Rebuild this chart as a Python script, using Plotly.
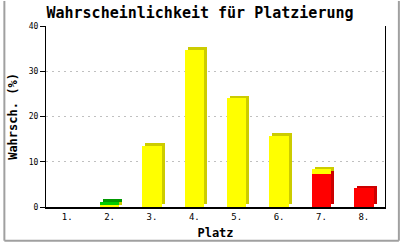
import plotly.graph_objects as go
import numpy as np

# ---- data ----
places = ["1.", "2.", "3.", "4.", "5.", "6.", "7.", "8."]
red_vals = [0, 0, 0, 0, 0, 0, 7.4, 4.1]
yellow_vals = [0, 0.4, 13.4, 34.7, 24.0, 15.7, 0.9, 0]
green_vals = [0, 0.65, 0, 0, 0, 0, 0, 0]
y_ticks = [0, 10, 20, 30, 40]

title_text = "Wahrscheinlichkeit für Platzierung"
x_title = "Platz"
y_title = "Wahrsch. (%)"

# ---- layout constants ----
W, H = 400, 250
ML, MR, MT, MB = 43, 15, 26, 36
PW, PH = W - ML - MR, H - MT - MB
YMAX = 40
n = len(places)
xpos = np.arange(1, n + 1)
bar_w = 0.46
dx = 3 / (PW / n)          # 3px depth in x data units
dy = 3 / (PH / YMAX)       # 3px depth in y data units

series = [
    ("red", red_vals, "#FF0000", "#CC0000"),
    ("yellow", yellow_vals, "#FFFF00", "#CCCC00"),
    ("green", green_vals, "#00CC00", "#009900"),
]

fig = go.Figure()
base = np.zeros(n)
fronts = []
for name, vals, front_c, side_c in series:
    v = np.array(vals, dtype=float)
    mask = v > 0
    if mask.any():
        # side / top shading (shifted back)
        fig.add_trace(go.Bar(
            x=xpos[mask], y=v[mask], base=base[mask] + dy,
            width=bar_w, offset=-bar_w / 2 + dx,
            marker=dict(color=side_c, line=dict(width=0)),
            hoverinfo="skip", showlegend=False))
        fronts.append(dict(x=xpos[mask], y=v[mask], base=base[mask].copy(), c=front_c, name=name))
    base = base + v

for f in fronts:
    fig.add_trace(go.Bar(
        x=f["x"], y=f["y"], base=f["base"],
        width=bar_w, offset=-bar_w / 2,
        marker=dict(color=f["c"], line=dict(width=0)),
        name=f["name"], showlegend=False))

mono = "DejaVu Sans Mono"
fig.update_layout(
    width=W, height=H,
    margin=dict(l=ML, r=MR, t=MT, b=MB),
    paper_bgcolor="white", plot_bgcolor="white",
    barmode="overlay", bargap=0,
    showlegend=False,
    title=dict(text="<b>" + title_text + "</b>", x=0.5, xanchor="center",
               y=1 - 13 / H, yanchor="middle",
               font=dict(family=mono, size=15, color="black")),
    xaxis=dict(
        range=[0.5, n + 0.5], tickvals=list(xpos), ticktext=places,
        showline=True, linecolor="black", linewidth=2, ticks="",
        showgrid=False, zeroline=False,
        tickfont=dict(family=mono, size=9, color="black"),
        title=dict(text="<b>" + x_title + "</b>", standoff=8,
                   font=dict(family=mono, size=12, color="black")),
    ),
    yaxis=dict(
        range=[0, YMAX], tickvals=y_ticks,
        showline=True, linecolor="black", linewidth=1, mirror=True,
        ticks="outside", ticklen=5, tickcolor="black", tickwidth=1,
        showgrid=True, gridcolor="#C0C0C0", griddash="2px,4px", gridwidth=1,
        zeroline=False,
        tickfont=dict(family=mono, size=8, color="black"),
        title=dict(text="<b>" + y_title + "</b>", standoff=8,
                   font=dict(family=mono, size=12, color="black")),
    ),
)

# outer gray frame (left, right, bottom)
fx0, fx1 = -(ML - 1) / PW, (W - ML - 1) / PW
fy0, fy1 = -(MB - 1) / PH, (H - MB) / PH
for x0, y0, x1, y1 in [(fx0, fy0, fx0, fy1), (fx1, fy0, fx1, fy1), (fx0, fy0, fx1, fy0)]:
    fig.add_shape(type="line", xref="paper", yref="paper",
                  x0=x0, y0=y0, x1=x1, y1=y1,
                  line=dict(color="#A0A0A0", width=2), layer="above")

fig.write_html("out.html")
